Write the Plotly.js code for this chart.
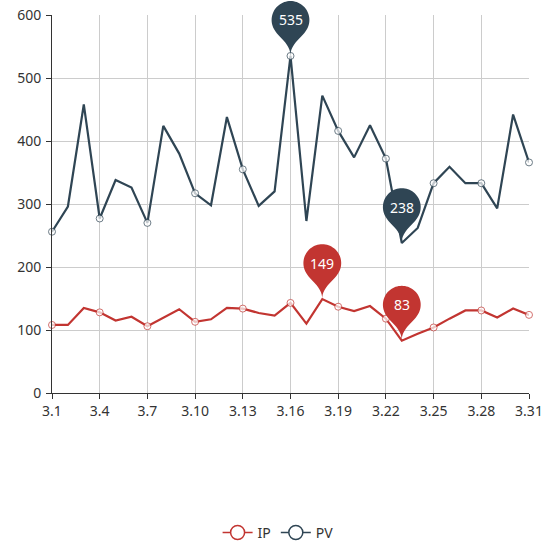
<!DOCTYPE html>
<html><head><meta charset="utf-8">
<script src="https://cdn.plot.ly/plotly-3.0.1.min.js"></script>
<style>html,body{margin:0;padding:0;background:#fff}#chart{width:543px;height:545px}</style>
</head><body><div id="chart"></div>
<script>
const days = ['3.1','3.2','3.3','3.4','3.5','3.6','3.7','3.8','3.9','3.10','3.11','3.12','3.13','3.14','3.15','3.16','3.17','3.18','3.19','3.20','3.21','3.22','3.23','3.24','3.25','3.26','3.27','3.28','3.29','3.30','3.31'];
const tickLabels = ['3.1','3.4','3.7','3.10','3.13','3.16','3.19','3.22','3.25','3.28','3.31'];
const ipValues = [108,108,135,128,115,121,106,120,133,113,117,135,134,127,123,143,110,149,137,130,138,118,83,94,104,118,131,131,120,134,124];
const pvValues = [256,296,458,277,338,326,270,424,380,317,298,438,355,297,320,535,273,472,416,374,425,372,238,262,333,359,333,333,293,442,366];
const seriesNames = ['IP','PV'];
const yTicks = [0,100,200,300,400,500,600];

const colors = {IP:'#c23531', PV:'#2f4554'};
const FONT = 'Noto Sans, Open Sans, sans-serif';
const yMin = 0, yMax = 600;
const xMax = days.length - 1;

function pinPath(sign){
  const w = 37.8, h = 63, r = w/2;
  const dy = r*r/(h-r), cy = -h + r + dy;
  const a = Math.asin(dy/r), dx = Math.cos(a)*r;
  const tanX = Math.sin(a), tanY = Math.cos(a), cp = r*0.6, cp2 = r*0.7;
  const Y = v => (sign*v).toFixed(2);
  const X = v => v.toFixed(2);
  const N = 48;
  let d = '';
  for (let i = 0; i <= N; i++) {
    const t = Math.PI - a + (Math.PI + 2*a)*i/N;
    const px = r*Math.cos(t), py = cy + r*Math.sin(t);
    d += (i === 0 ? 'M' : ' L') + X(px) + ',' + Y(py);
  }
  d += ' C' + X(dx - tanX*cp) + ',' + Y(cy + dy + tanY*cp) + ' 0,' + Y(-cp2) + ' 0,0';
  d += ' C0,' + Y(-cp2) + ' ' + X(-dx + tanX*cp) + ',' + Y(cy + dy + tanY*cp) + ' ' + X(-dx) + ',' + Y(cy + dy) + ' Z';
  return {d, cy};
}
const pin = pinPath(-1);

const seriesData = {IP: ipValues, PV: pvValues};
const traces = [];
const shapes = [];
const annotations = [];
seriesNames.forEach(name => {
  const vals = seriesData[name];
  traces.push({
    type:'scatter', mode:'lines+markers', x: days, y: vals, name, showlegend:false,
    line:{color: colors[name], width:2.2},
    marker:{symbol:'circle', color:'#fff', size: vals.map((v,i)=> i%3===0 ? 7 : 0),
            line:{color: colors[name], width:1}},
    cliponaxis:false, hoverinfo:'skip'
  });
  traces.push({
    type:'scatter', mode:'lines+markers', x:[null], y:[null], name, showlegend:true,
    line:{color: colors[name], width:1.5},
    marker:{symbol:'circle', color:'#fff', size:14, line:{color: colors[name], width:1.5}}
  });
  const maxV = Math.max(...vals), minV = Math.min(...vals);
  [vals.indexOf(maxV), vals.indexOf(minV)].forEach(idx => {
    shapes.push({
      type:'path', xref:'paper', yref:'paper', xsizemode:'pixel', ysizemode:'pixel',
      xanchor: idx / xMax, yanchor: (vals[idx]-yMin)/(yMax-yMin),
      path: pin.d, fillcolor: colors[name], line:{width:0}, layer:'above'
    });
    annotations.push({
      x: idx, y: vals[idx], xref:'x', yref:'y', text: String(vals[idx]),
      showarrow:false, yshift: -pin.cy, font:{family:FONT, size:14, color:'#fff'}
    });
  });
});

const layout = {
  width:543, height:545,
  margin:{l:52, r:14, t:15, b:152, autoexpand:false},
  paper_bgcolor:'#fff', plot_bgcolor:'#fff',
  font:{family:FONT, size:14, color:'#333'},
  showlegend:true,
  legend:{orientation:'h', x:0.474, xanchor:'center', y:-0.37, yanchor:'middle',
          font:{family:FONT, size:14, color:'#333'}, itemwidth:30},
  xaxis:{type:'category', range:[0, xMax], tickmode:'array', tickvals: tickLabels, ticktext: tickLabels,
         showline:true, linecolor:'#333', linewidth:1, ticks:'outside', ticklen:5, tickcolor:'#333',
         showgrid:true, gridcolor:'#ccc', gridwidth:1, zeroline:false,
         tickfont:{family:FONT, size:14, color:'#333'}, fixedrange:true},
  yaxis:{range:[yMin, yMax], tickmode:'array', tickvals: yTicks,
         showline:true, linecolor:'#333', linewidth:1, ticks:'outside', ticklen:5, tickcolor:'#333',
         showgrid:true, gridcolor:'#ccc', gridwidth:1, zeroline:false, ticklabelstandoff:2,
         tickfont:{family:FONT, size:14, color:'#333'}, fixedrange:true},
  shapes, annotations,
  hovermode:false
};
Plotly.newPlot('chart', traces, layout, {displayModeBar:false, staticPlot:true});
</script>
</body></html>
